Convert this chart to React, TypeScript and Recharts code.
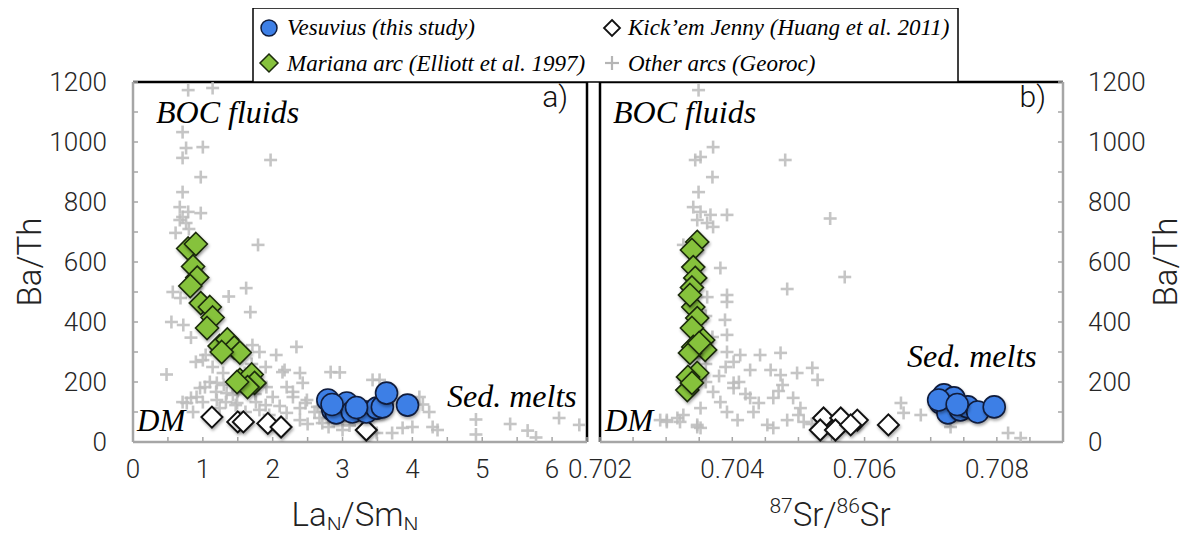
import React from 'react';
import { ScatterChart, Scatter, XAxis, YAxis, ReferenceLine } from 'recharts';

// ---------- axis ticks ----------
const baThTicks = [0, 100, 200, 300, 400, 500, 600, 700, 800, 900, 1000, 1100, 1200];
const laSmTicks = [0, 0.5, 1, 1.5, 2, 2.5, 3, 3.5, 4, 4.5, 5, 5.5, 6, 6.5];
const srTicks = [0.702, 0.7025, 0.703, 0.7035, 0.704, 0.7045, 0.705, 0.7055, 0.706, 0.7065, 0.707, 0.7075, 0.708, 0.7085, 0.709];

// ---------- panel a: LaN/SmN vs Ba/Th ----------
const vesuviusA: [number, number][] = [
  [2.79, 140], [2.96, 117], [2.86, 107], [2.91, 97], [3.06, 130], [3.14, 100], [3.34, 100],
  [3.49, 113], [3.57, 117], [3.63, 163], [3.93, 123], [2.85, 125], [3.2, 115],
];
const marianaA: [number, number][] = [
  [0.79, 645], [0.9, 660], [0.86, 585], [0.92, 548], [0.82, 520], [0.97, 463], [1.1, 450],
  [1.14, 415], [1.06, 380], [1.24, 320], [1.35, 342], [1.45, 315], [1.53, 298], [1.27, 300],
  [1.53, 207], [1.7, 225], [1.74, 197], [1.64, 183], [1.49, 200],
];
const kickemA: [number, number][] = [
  [1.13, 83], [1.5, 67], [1.58, 67], [1.93, 62], [2.12, 50], [3.34, 40],
];
const otherA: [number, number][] = [
  [0.79, 1173], [1.14, 1180], [0.71, 1033], [0.76, 980], [1.0, 983], [0.71, 947], [1.97, 940],
  [0.97, 883], [0.71, 833], [0.67, 783], [0.79, 767], [0.97, 763], [0.67, 740], [0.76, 730],
  [0.71, 750], [0.61, 697], [0.8, 710], [1.79, 657], [1.62, 513], [0.57, 500], [0.68, 480],
  [1.37, 485], [1.68, 433], [0.55, 400], [0.72, 390], [0.83, 348], [2.34, 317], [2.05, 290],
  [2.14, 233], [0.48, 225], [2.83, 233], [2.96, 232], [2.39, 230], [2.17, 240], [1.0, 273],
  [1.14, 250], [1.29, 230], [1.2, 197], [1.03, 183], [0.91, 150], [0.77, 130], [1.2, 140],
  [1.34, 163], [1.49, 130], [1.91, 183], [2.0, 150], [2.2, 183], [2.29, 150], [2.43, 197],
  [2.49, 140], [2.64, 117], [2.71, 63], [2.39, 73], [2.2, 97], [1.81, 107], [3.43, 207],
  [3.53, 207], [4.1, 150], [4.15, 125], [4.24, 100], [4.29, 50], [4.0, 50], [3.71, 30],
  [3.49, 30], [3.86, 47], [4.36, 40], [4.91, 75], [4.91, 25], [5.4, 60], [5.65, 38],
  [5.77, 15], [6.1, 80], [6.39, 57], [0.83, 147], [0.71, 133], [0.96, 180], [1.1, 200],
  [1.19, 167], [1.33, 133], [1.47, 123], [0.9, 267], [1.04, 290], [2.29, 167], [2.39, 113],
  [1.9, 123], [1.61, 100], [1.76, 133], [1.71, 323], [1.81, 300], [2.47, 130], [2.67, 80],
  [1.0, 133], [1.24, 113], [1.43, 157], [0.86, 100], [1.6, 230], [1.7, 260], [1.9, 250],
  [1.3, 190], [1.5, 170], [1.75, 160], [2.1, 120], [1.95, 90], [2.5, 60], [2.8, 50],
  [3.0, 40], [3.1, 55], [2.6, 100],
];

// ---------- panel b: 87Sr/86Sr vs Ba/Th ----------
const vesuviusB: [number, number][] = [
  [0.7072, 157], [0.70735, 147], [0.70715, 130], [0.7073, 113], [0.70726, 97], [0.70745, 107],
  [0.70756, 117], [0.70771, 100], [0.70796, 117], [0.70712, 140], [0.7074, 125],
];
const marianaB: [number, number][] = [
  [0.70347, 667], [0.70339, 640], [0.70341, 583], [0.70344, 547], [0.70339, 515], [0.70341, 450],
  [0.70347, 413], [0.70339, 380], [0.70356, 340], [0.70341, 317], [0.70359, 307], [0.70336, 297],
  [0.70347, 230], [0.70333, 217], [0.70332, 173], [0.70339, 197], [0.7035, 330], [0.70336, 490],
];
const kickemB: [number, number][] = [
  [0.70538, 80], [0.70533, 40], [0.70564, 80], [0.70556, 40], [0.70589, 73], [0.70579, 57], [0.70636, 57],
];
const otherB: [number, number][] = [
  [0.70349, 1173], [0.70371, 983], [0.70352, 950], [0.70344, 940], [0.7048, 940], [0.7037, 883],
  [0.70349, 833], [0.70341, 783], [0.70352, 767], [0.70367, 757], [0.70392, 757], [0.70347, 740],
  [0.70362, 730], [0.70371, 717], [0.70548, 745], [0.70326, 657], [0.7057, 550], [0.70483, 510],
  [0.70382, 580], [0.70392, 490], [0.70362, 483], [0.70392, 467], [0.70389, 407], [0.70392, 357],
  [0.70392, 300], [0.70402, 267], [0.70412, 290], [0.70442, 290], [0.70473, 297], [0.70427, 240],
  [0.70458, 240], [0.70473, 223], [0.70498, 230], [0.70521, 247], [0.70529, 207], [0.70476, 190],
  [0.70462, 147], [0.70492, 147], [0.70503, 113], [0.70427, 147], [0.70432, 100], [0.70402, 180],
  [0.70371, 167], [0.70382, 133], [0.70392, 100], [0.70352, 113], [0.70347, 57], [0.70326, 90],
  [0.70301, 73], [0.70291, 73], [0.70317, 80], [0.70408, 73], [0.70453, 57], [0.70483, 73],
  [0.70508, 67], [0.70462, 47], [0.70352, 47], [0.70402, 197], [0.70655, 130], [0.70659, 97],
  [0.70685, 90], [0.7073, 50], [0.70817, 30], [0.70836, 13], [0.70301, 67], [0.70321, 67],
  [0.70347, 50], [0.7038, 220], [0.7041, 200], [0.7039, 250], [0.7042, 160], [0.7036, 260],
  [0.7044, 130], [0.7047, 170], [0.705, 90], [0.7052, 60], [0.7036, 200], [0.7035, 280],
  [0.7037, 350], [0.7036, 420],
];

const toPts = (arr: [number, number][]) => arr.map(([x, y]) => ({ x, y }));

const GRAY = '#a6a6a6';
const BLUE = '#3d7fe6';
const GREEN = '#86c23c';
const TICK_FONT = { fontSize: 26, fill: '#262626', fontFamily: 'Roboto, "Liberation Sans", sans-serif', fontWeight: 300 };
const SERIF = '"Liberation Serif", "DejaVu Serif", serif';
const SANS = 'Roboto, "Liberation Sans", sans-serif';
const shadow = { filter: 'drop-shadow(1px 2px 1.5px rgba(0,0,0,0.35))' };

const PlusShape = (p: any) => {
  const { cx, cy } = p;
  const s = 6.5;
  return (
    <g opacity={0.85}>
      <line x1={cx - s} y1={cy} x2={cx + s} y2={cy} stroke="#bcbcbc" strokeWidth={2.6} />
      <line x1={cx} y1={cy - s} x2={cx} y2={cy + s} stroke="#bcbcbc" strokeWidth={2.6} />
    </g>
  );
};
const GreenDiamond = (p: any) => {
  const { cx, cy } = p;
  const s = 11.5;
  return (
    <path d={`M${cx},${cy - s}L${cx + s},${cy}L${cx},${cy + s}L${cx - s},${cy}Z`}
      fill={GREEN} stroke="#1b2a0c" strokeWidth={1.6} style={shadow} />
  );
};
const WhiteDiamond = (p: any) => {
  const { cx, cy } = p;
  const s = 10.5;
  return (
    <path d={`M${cx},${cy - s}L${cx + s},${cy}L${cx},${cy + s}L${cx - s},${cy}Z`}
      fill="#fff" stroke="#111" strokeWidth={2} style={shadow} />
  );
};
const BlueCircle = (p: any) => {
  const { cx, cy } = p;
  return <circle cx={cx} cy={cy} r={11} fill={BLUE} stroke="#101c3c" strokeWidth={1.6} style={shadow} />;
};

const fmtBaTh = (v: number) => (v % 200 === 0 ? String(v) : '');
const fmtLaSm = (v: number) => (Number.isInteger(v) ? String(v) : '');
const fmtSr = (v: number) => (Math.round(v * 10000) % 20 === 0 ? v.toFixed(3) : '');

const axisLine = { stroke: GRAY, strokeWidth: 2.5 };
const tickLine = { stroke: GRAY, strokeWidth: 1.5 };

export default function App() {
  return (
    <div style={{ position: 'relative', width: 1189, height: 538, margin: -8, background: '#fff', fontFamily: SANS }}>
      <div style={{ position: 'absolute', left: 0, top: 0 }}>
        <ScatterChart width={600} height={538} margin={{ top: 82, right: 13, bottom: 56, left: 8 }}>
          <XAxis type="number" dataKey="x" domain={[0, 6.5]} ticks={laSmTicks} interval={0}
            tickFormatter={fmtLaSm} height={40} axisLine={axisLine} tickLine={tickLine}
            tickSize={-5} tickMargin={23} tick={TICK_FONT} allowDataOverflow />
          <YAxis type="number" dataKey="y" domain={[0, 1200]} ticks={baThTicks} interval={0}
            tickFormatter={fmtBaTh} width={125} axisLine={axisLine} tickLine={tickLine}
            tickSize={-5} tickMargin={31} tick={TICK_FONT} allowDataOverflow />
          <ReferenceLine x={6.5} stroke="#000" strokeWidth={2.5} />
          <ReferenceLine y={1200} stroke="#000" strokeWidth={2.5} />
          <Scatter data={toPts(otherA)} shape={PlusShape} isAnimationActive={false} />
          <Scatter data={toPts(marianaA)} shape={GreenDiamond} isAnimationActive={false} />
          <Scatter data={toPts(kickemA)} shape={WhiteDiamond} isAnimationActive={false} />
          <Scatter data={toPts(vesuviusA)} shape={BlueCircle} isAnimationActive={false} />
        </ScatterChart>
      </div>
      <div style={{ position: 'absolute', left: 540, top: 0 }}>
        <ScatterChart width={649} height={538} margin={{ top: 82, right: 16, bottom: 56, left: 60 }}>
          <XAxis type="number" dataKey="x" domain={[0.702, 0.709]} ticks={srTicks} interval={0}
            tickFormatter={fmtSr} height={40} axisLine={axisLine} tickLine={tickLine}
            tickSize={-5} tickMargin={23} tick={TICK_FONT} allowDataOverflow />
          <YAxis type="number" dataKey="y" orientation="right" domain={[0, 1200]} ticks={baThTicks} interval={0}
            tickFormatter={fmtBaTh} width={110} axisLine={axisLine} tickLine={tickLine}
            tickSize={-5} tickMargin={30} tick={TICK_FONT} allowDataOverflow />
          <ReferenceLine x={0.702} stroke="#000" strokeWidth={2.5} />
          <ReferenceLine y={1200} stroke="#000" strokeWidth={2.5} />
          <Scatter data={toPts(otherB)} shape={PlusShape} isAnimationActive={false} />
          <Scatter data={toPts(marianaB)} shape={GreenDiamond} isAnimationActive={false} />
          <Scatter data={toPts(kickemB)} shape={WhiteDiamond} isAnimationActive={false} />
          <Scatter data={toPts(vesuviusB)} shape={BlueCircle} isAnimationActive={false} />
        </ScatterChart>
      </div>
      <svg width={1189} height={538} style={{ position: 'absolute', left: 0, top: 0, pointerEvents: 'none' }}>
        {/* axis titles */}
        <text transform="translate(41,262) rotate(-90)" textAnchor="middle" fontFamily={SANS} fontWeight={300} fontSize={33} fill="#222">Ba/Th</text>
        <text transform="translate(1177,262) rotate(-90)" textAnchor="middle" fontFamily={SANS} fontWeight={300} fontSize={33} fill="#222">Ba/Th</text>
        <text x={355} y={526} textAnchor="middle" fontFamily={SANS} fontWeight={300} fontSize={33} fill="#222">
          La<tspan fontSize={21} dy={6}>N</tspan><tspan dy={-6}>/Sm</tspan><tspan fontSize={21} dy={6}>N</tspan>
        </text>
        <text x={830} y={526} textAnchor="middle" fontFamily={SANS} fontWeight={300} fontSize={33} fill="#222">
          <tspan fontSize={21} dy={-13}>87</tspan><tspan dy={13}>Sr/</tspan><tspan fontSize={21} dy={-13}>86</tspan><tspan dy={13}>Sr</tspan>
        </text>
        {/* panel annotations */}
        <text x={156} y={123} fontFamily={SERIF} fontStyle="italic" fontSize={32} fill="#000">BOC fluids</text>
        <text x={613} y={123} fontFamily={SERIF} fontStyle="italic" fontSize={32} fill="#000">BOC fluids</text>
        <text x={568} y={107} textAnchor="end" fontFamily={SANS} fontWeight={300} fontSize={30} fill="#111">a)</text>
        <text x={1046} y={107} textAnchor="end" fontFamily={SANS} fontWeight={300} fontSize={30} fill="#111">b)</text>
        <text x={447} y={407} fontFamily={SERIF} fontStyle="italic" fontSize={32} fill="#000">Sed. melts</text>
        <text x={907} y={367} fontFamily={SERIF} fontStyle="italic" fontSize={32} fill="#000">Sed. melts</text>
        <text x={137} y={431} fontFamily={SERIF} fontStyle="italic" fontSize={31} fill="#000">DM</text>
        <text x={605} y={431} fontFamily={SERIF} fontStyle="italic" fontSize={31} fill="#000">DM</text>
        {/* legend */}
        <rect x={253} y={8} width={705} height={74} fill="#fff" stroke="#000" strokeWidth={1.5} />
        <circle cx={269} cy={28} r={8} fill={BLUE} stroke="#101c3c" strokeWidth={1.5} />
        <text x={287} y={35} fontFamily={SERIF} fontStyle="italic" fontSize={23} fill="#000">Vesuvius (this study)</text>
        <path d="M269,54L278,63L269,72L260,63Z" fill={GREEN} stroke="#1b2a0c" strokeWidth={1.5} />
        <text x={287} y={71} fontFamily={SERIF} fontStyle="italic" fontSize={23} fill="#000">Mariana arc (Elliott et al. 1997)</text>
        <path d="M612,20L620,28L612,36L604,28Z" fill="#fff" stroke="#111" strokeWidth={1.8} />
        <text x={628} y={35} fontFamily={SERIF} fontStyle="italic" fontSize={23} fill="#000">Kick’em Jenny (Huang et al. 2011)</text>
        <line x1={605} y1={63} x2={619} y2={63} stroke="#b5b5b5" strokeWidth={2.2} />
        <line x1={612} y1={56} x2={612} y2={70} stroke="#b5b5b5" strokeWidth={2.2} />
        <text x={628} y={71} fontFamily={SERIF} fontStyle="italic" fontSize={23} fill="#000">Other arcs (Georoc)</text>
      </svg>
    </div>
  );
}
